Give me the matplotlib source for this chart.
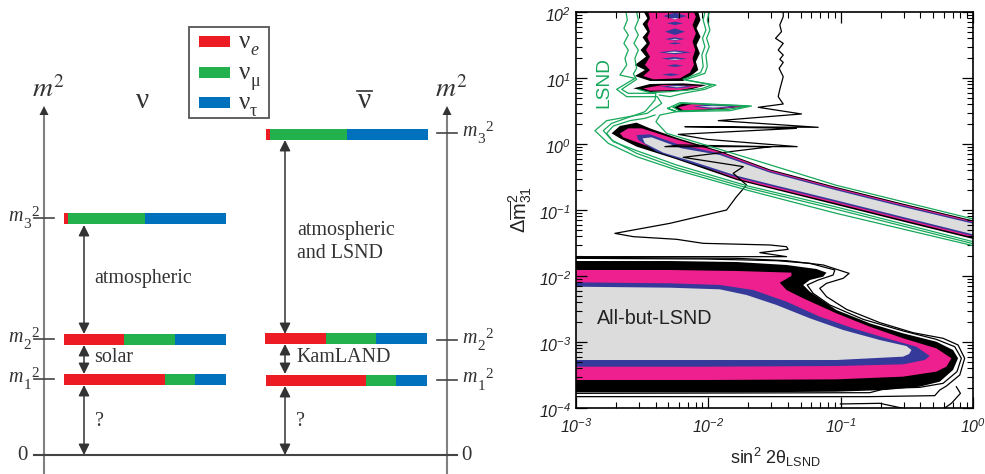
import numpy as np
import matplotlib
matplotlib.use("Agg")
import matplotlib.pyplot as plt
from matplotlib.transforms import ScaledTranslation

plt.rcParams["font.family"] = ["Liberation Sans", "DejaVu Sans"]
plt.rcParams["mathtext.fontset"] = "custom"
plt.rcParams["mathtext.rm"] = "Liberation Sans:italic"
plt.rcParams["mathtext.it"] = "Liberation Sans:italic"
plt.rcParams["mathtext.bf"] = "Liberation Sans"

RED = "#ED1C24"
GREEN = "#22B14C"
BLUE = "#0071BC"
DARK = "#333333"
GREY = "#808080"
LSND_GREEN = "#16A85A"
PINK = "#EE1F8E"
INDIGO = "#34399A"
LIGHT = "#DCDCDC"

# level scheme, left panel
level_digits = ["3", "2", "1"]
nu_y = [218.5, 339.5, 379.5]
nu_left = [64, 64, 64]
nu_e = [4, 60, 101]
nu_mu = [77, 51, 30]
nu_tau = [81, 51, 31]
nubar_y = [134.5, 338.5, 380.5]
nubar_left = [266, 265, 266]
nubar_e = [4, 61, 100]
nubar_mu = [77, 50, 30]
nubar_tau = [81, 51, 31]
left_tick_y = [218, 339, 379]
right_tick_y = [133, 340, 379.5]
zero_y = 455
flavour_colors = [RED, GREEN, BLUE]
flavour_y = [41.5, 72.5, 102.5]
flavour_sub = ["e", "\u03bc", "\u03c4"]
flavour_style = ["italic", "normal", "normal"]

# sin^2 2theta (log10), dm^2 (log10): all-but-LSND island
abl_black = [(-3, -1.773), (-2.29, -1.773), (-1.787, -1.788), (-1.409, -1.833), (-1.183, -1.894),
             (-1.107, -1.949), (-1.132, -2.01), (-1.233, -2.061), (-1.283, -2.136), (-1.233, -2.237),
             (-1.032, -2.515), (-.78, -2.717), (-.528, -2.869), (-.277, -2.995), (-.151, -3.121),
             (-.113, -3.247), (-.151, -3.424), (-.251, -3.601), (-.402, -3.677), (-.654, -3.727),
             (-1.032, -3.753), (-1.787, -3.763), (-3, -3.763)]
abl_pink = [(-3, -1.909), (-2.29, -1.909), (-1.787, -1.924), (-1.372, -1.949), (-1.372, -2.0),
            (-1.46, -2.101), (-1.409, -2.212), (-1.283, -2.338), (-1.032, -2.566), (-.78, -2.768),
            (-.528, -2.944), (-.277, -3.096), (-.163, -3.247), (-.201, -3.374), (-.277, -3.449),
            (-.528, -3.525), (-1.032, -3.566), (-2.039, -3.576), (-3, -3.576)]
abl_blue = [(-3, -2.096), (-2.29, -2.111), (-1.913, -2.136), (-1.661, -2.212), (-1.409, -2.389),
            (-1.158, -2.616), (-.906, -2.793), (-.654, -2.944), (-.428, -3.071), (-.327, -3.212),
            (-.365, -3.273), (-.528, -3.338), (-1.032, -3.364), (-2.039, -3.374), (-3, -3.374)]
abl_gray = [(-3, -2.162), (-2.29, -2.177), (-1.913, -2.202), (-1.711, -2.288), (-1.485, -2.439),
            (-1.233, -2.641), (-.981, -2.818), (-.704, -2.97), (-.503, -3.061), (-.465, -3.121),
            (-.483, -3.182), (-.528, -3.222), (-1.032, -3.273), (-2.039, -3.273), (-3, -3.273)]
abl_line_a = [(-3, -1.732), (-2.039, -1.742), (-1.485, -1.768), (-1.233, -1.808), (-1.044, -1.909),
              (-1.057, -1.985), (-1.17, -2.061), (-1.253, -2.136), (-1.208, -2.263), (-1.082, -2.439),
              (-.83, -2.657), (-.528, -2.833), (-.277, -2.96), (-.138, -3.071), (-.088, -3.247),
              (-.121, -3.449), (-.226, -3.626), (-.402, -3.687), (-.654, -3.702), (-.78, -3.768),
              (-3, -3.778)]
abl_line_b = [(-3, -1.717), (-1.787, -1.732), (-1.409, -1.768), (-1.132, -1.833), (-.936, -1.96),
              (-.981, -2.035), (-1.107, -2.111), (-1.158, -2.187), (-1.107, -2.313), (-.956, -2.505),
              (-.704, -2.707), (-.453, -2.859), (-.226, -2.944), (-.113, -3.045), (-.063, -3.247),
              (-.1, -3.5), (-.201, -3.667), (-.251, -3.727), (-.289, -3.813), (-.78, -3.828),
              (-3, -3.828)]
abl_line_c = [(-1.002, -3.939), (-.704, -3.929), (-.528, -4.005)]
abl_line_d = [(-.214, -4.0), (-.163, -3.929), (-.095, -3.778), (-.126, -3.677)]
wander_line = [(-1.434, 2.0), (-1.434, 1.929), (-1.46, 1.803), (-1.447, 1.702), (-1.492, 1.601),
               (-1.434, 1.525), (-1.472, 1.424), (-1.434, 1.348), (-1.46, 1.283), (-1.434, 1.237),
               (-1.465, 1.146), (-1.434, 1.02), (-1.46, .828), (-1.472, .717), (-1.434, .606),
               (-1.623, .556), (-1.296, .455), (-1.925, .354), (-1.17, .253), (-2.177, .263),
               (-1.334, .237), (-2.227, .146), (-2.013, .071), (-1.329, -.04), (-2.328, -.04),
               (-2.215, -.015), (-1.523, -.04), (-2.19, -.202), (-1.736, -.343), (-1.812, -.444),
               (-1.711, -.621), (-1.787, -.798), (-1.862, -1.0), (-2.29, -1.202), (-2.706, -1.354),
               (-2.567, -1.404), (-2.24, -1.444), (-2.039, -1.505), (-1.535, -1.53), (-1.409, -1.556),
               (-1.397, -1.596), (-1.611, -1.646), (-1.409, -1.707), (-3, -1.707)]

# LSND band
band_black = [(-2.731, .162), (-2.668, .273), (-2.542, .323), (-2.441, .237), (-2.227, .086),
              (-1.913, -.106), (-1.535, -.384), (-1.032, -.652), (-.528, -.904), (0, -1.157),
              (0, -1.439), (-.528, -1.177), (-1.032, -.924), (-1.535, -.672), (-1.787, -.545),
              (-2.24, -.232), (-2.542, -.04), (-2.668, .086)]
band_pink = [(-2.668, .162), (-2.605, .237), (-2.504, .237), (-2.227, .061), (-1.913, -.121),
             (-1.535, -.399), (-1.032, -.667), (-.528, -.919), (0, -1.172), (0, -1.414),
             (-.528, -1.152), (-1.032, -.899), (-1.535, -.652), (-1.787, -.525), (-2.24, -.192),
             (-2.517, .01), (-2.643, .101)]
band_blue = [(-2.542, .136), (-2.441, .146), (-2.215, -.015), (-1.913, -.141), (-1.535, -.414),
             (-1.032, -.682), (-.528, -.934), (0, -1.187), (0, -1.394), (-.528, -1.131),
             (-1.032, -.879), (-1.535, -.631), (-1.787, -.505), (-2.139, -.283), (-2.391, -.116),
             (-2.529, .061)]
band_gray = [(-2.497, .086), (-2.429, .101), (-2.202, -.066), (-1.913, -.167), (-1.535, -.434),
             (-1.032, -.702), (-.528, -.955), (0, -1.207), (0, -1.369), (-.528, -1.106),
             (-1.032, -.854), (-1.535, -.606), (-1.787, -.48), (-2.139, -.253), (-2.341, -.131),
             (-2.479, .01)]

# vertical stripe at large dm^2
top_black = [(-2.487, 2.0), (-2.461, 1.904), (-2.497, 1.818), (-2.461, 1.702), (-2.497, 1.616),
             (-2.466, 1.525), (-2.512, 1.424), (-2.471, 1.323), (-2.555, 1.197), (-2.479, 1.121),
             (-2.555, 1.03), (-2.441, .955), (-2.19, .955), (-2.114, 1.061), (-2.076, 1.121),
             (-2.094, 1.247), (-2.064, 1.374), (-2.089, 1.5), (-2.059, 1.626), (-2.089, 1.753),
             (-2.059, 1.879), (-2.076, 2.0)]
top_pink = [(-2.454, 2.0), (-2.441, 1.904), (-2.461, 1.818), (-2.441, 1.702), (-2.461, 1.616),
            (-2.441, 1.525), (-2.471, 1.424), (-2.441, 1.323), (-2.479, 1.197), (-2.441, 1.121),
            (-2.492, 1.03), (-2.416, .98), (-2.215, .995), (-2.139, 1.081), (-2.109, 1.197),
            (-2.119, 1.298), (-2.099, 1.424), (-2.119, 1.551), (-2.094, 1.677), (-2.119, 1.803),
            (-2.094, 1.929), (-2.109, 2.0)]
second_black = [(-2.567, .843), (-2.441, .909), (-2.19, .919), (-2.013, .894), (-2.164, .808), (-2.441, .788)]
second_pink = [(-2.492, .843), (-2.341, .894), (-2.039, .879), (-2.215, .818), (-2.441, .808)]
third_black = [(-2.265, .556), (-2.19, .626), (-1.711, .566), (-2.039, .505), (-2.215, .49)]
third_pink = [(-2.227, .556), (-2.114, .611), (-1.724, .566), (-2.039, .52), (-2.19, .51)]
third_blue = [(-2.114, .566), (-1.988, .601), (-1.774, .566), (-1.988, .535)]
third_gray = [(-2.076, .566), (-1.963, .581), (-1.837, .566), (-1.963, .551)]

blue_left = [-2.341, -2.315, -2.328, -2.328, -2.303, -2.378, -2.353, -2.315, -2.353, -2.366]
blue_right = [-2.164, -2.19, -2.177, -2.177, -2.202, -2.127, -2.164, -2.19, -2.215, -2.114]
blue_mid = [1.939, 1.828, 1.702, 1.591, 1.525, 1.389, 1.293, 1.187, 1.051, .869]
blue_half = [.05, .025, .05, .025, .015, .03, .025, .02, .02, .025]
gray_left = [-2.278, -2.29, -2.303, -2.328, -2.303]
gray_right = [-2.227, -2.215, -2.202, -2.19, -2.165]
gray_mid = [1.899, 1.586, 1.283, 1.389, .869]
gray_half = [.01, .008, .008, .012, .01]

# LSND green contours
green_outer = [(-2.622, 2.0), (-2.612, 1.879), (-2.638, 1.753), (-2.605, 1.652), (-2.638, 1.525),
               (-2.605, 1.424), (-2.63, 1.298), (-2.617, 1.197), (-2.668, 1.045), (-2.555, .995),
               (-2.693, .828), (-2.617, .717), (-2.386, .717), (-2.353, .616), (-2.461, .465),
               (-2.768, .354), (-2.857, .202), (-2.756, .01), (-2.542, -.192), (-2.24, -.394),
               (-1.711, -.697), (-1.032, -1.051), (0, -1.54)]
green_middle = [(-2.542, 2.0), (-2.529, 1.879), (-2.555, 1.753), (-2.529, 1.652), (-2.562, 1.525),
                (-2.529, 1.424), (-2.555, 1.298), (-2.542, 1.146), (-2.567, 1.061), (-2.542, .98),
                (-2.655, .828), (-2.605, .768), (-2.396, .768), (-2.403, .667), (-2.479, .49),
                (-2.731, .313), (-2.794, .202), (-2.731, .061), (-2.542, -.141), (-2.24, -.359),
                (-1.711, -.662), (-1.032, -.99), (0, -1.51)]
green_inner = [(0, -1.48), (-1.032, -.955), (-1.711, -.631), (-2.24, -.318), (-2.542, -.101),
               (-2.718, .035), (-2.768, .162), (-2.718, .273), (-2.592, .354), (-2.479, .389),
               (-2.403, .439)]
green_upper = [(-2.308, .54), (-2.215, .626), (-1.674, .576), (-1.837, .505), (-2.24, .49),
               (-2.308, .54), (-2.24, .49), (-2.366, .439), (-2.396, .338), (-2.315, .162),
               (-1.913, -.081), (-1.032, -.626), (0, -1.136)]
green_right_a = [(-1.993, 2.0), (-2.008, 1.879), (-1.988, 1.727), (-2.013, 1.601), (-1.993, 1.475),
                 (-2.018, 1.348), (-2.008, 1.172), (-2.026, 1.071), (-2.177, .97), (-1.943, .894),
                 (-2.026, .828), (-2.19, .768), (-2.29, .717), (-2.371, .742)]
green_right_b = [(-2.026, 2.0), (-2.039, 1.879), (-2.018, 1.727), (-2.044, 1.601), (-2.026, 1.475),
                 (-2.049, 1.348), (-2.039, 1.172), (-2.059, 1.081), (-2.19, .98), (-1.976, .894),
                 (-2.051, .838), (-2.29, .793), (-2.441, .778), (-2.529, .828)]
green_third = [(-2.265, .556), (-2.202, .616), (-1.699, .576), (-1.85, .525), (-2.215, .5), (-2.265, .556)]

x_ticks = [1e-3, 1e-2, 1e-1, 1e0]
x_tick_labels = [r"$10^{-3}$", r"$10^{-2}$", r"$10^{-1}$", r"$10^{0}$"]
y_ticks = [1e-4, 1e-3, 1e-2, 1e-1, 1e0, 1e1, 1e2]
y_tick_labels = [r"$10^{-4}$", r"$10^{-3}$", r"$10^{-2}$", r"$10^{-1}$", r"$10^{0}$", r"$10^{1}$", r"$10^{2}$"]


def fill_log(ax, pts, color):
    xy = np.array(pts)
    ax.fill(10 ** xy[:, 0], 10 ** xy[:, 1], color=color, lw=0)


def line_log(ax, pts, color, lw=0.9):
    xy = np.array(pts)
    ax.plot(10 ** xy[:, 0], 10 ** xy[:, 1], color=color, lw=lw)


def fill_lens(ax, left, right, mid, half, color):
    for a, b, m, h in zip(left, right, mid, half):
        c = (a + b) / 2
        fill_log(ax, [(a, m), (c, m + h), (b, m), (c, m - h)], color)


def double_arrow(ax, x, y0, y1):
    ax.annotate("", xy=(x, y1), xytext=(x, y0),
                arrowprops=dict(arrowstyle="<|-|>,head_length=0.36,head_width=0.18", color=DARK,
                                lw=1.1, shrinkA=0, shrinkB=0, mutation_scale=18))


def mass_label(ax, x, y, digit):
    serif = dict(family="Liberation Serif", color=DARK, va="baseline")
    ax.text(x, y + 3, "m", fontsize=14.4, style="italic", **serif)
    ax.text(x + 15.5, y + 10, digit, fontsize=11, **serif)
    ax.text(x + 23, y - 2, "2", fontsize=11, **serif)


def level_scheme(ax):
    ax.set_xlim(0, 490)
    ax.set_ylim(474, 0)
    ax.axis("off")

    for ys, left, w_e, w_mu, w_tau in [(nu_y, nu_left, nu_e, nu_mu, nu_tau),
                                       (nubar_y, nubar_left, nubar_e, nubar_mu, nubar_tau)]:
        left = np.array(left)
        ax.barh(ys, w_e, left=left, height=11, color=RED)
        ax.barh(ys, w_mu, left=left + w_e, height=11, color=GREEN)
        ax.barh(ys, w_tau, left=left + np.array(w_e) + w_mu, height=11, color=BLUE)

    # m^2 axes
    for x in [44, 447]:
        ax.plot([x, x], [474, 112], color=GREY, lw=1.5, zorder=1)
        ax.annotate("", xy=(x, 106), xytext=(x, 125),
                    arrowprops=dict(arrowstyle="-|>,head_length=0.36,head_width=0.18", color=DARK,
                                    lw=0, shrinkA=0, shrinkB=0, mutation_scale=18))
    ax.plot([34, 457], [zero_y, zero_y], color="#444444", lw=1.5)
    for y in left_tick_y:
        ax.plot([34, 54], [y, y], color="#444444", lw=1.2)
    for y in right_tick_y:
        ax.plot([437, 457], [y, y], color="#444444", lw=1.2)

    double_arrow(ax, 84, 225, 334)
    double_arrow(ax, 84, 345, 374)
    double_arrow(ax, 84, 385, 455)
    double_arrow(ax, 285, 140, 334)
    double_arrow(ax, 285, 344, 374)
    double_arrow(ax, 285, 386, 455)

    serif = dict(family="Liberation Serif", fontsize=14.4, color=DARK, va="center")
    ax.text(94.5, 278, "atmospheric", **serif)
    ax.text(94.5, 358, "solar", **serif)
    ax.text(94.5, 421, "?", **serif)
    ax.text(297, 230, "atmospheric", **serif)
    ax.text(297, 254, "and LSND", **serif)
    ax.text(296, 357, "KamLAND", **serif)
    ax.text(296, 421, "?", **serif)

    for digit, yl, yr in zip(level_digits, left_tick_y, right_tick_y):
        mass_label(ax, 8, yl, digit)
        mass_label(ax, 462, yr, digit)
    ax.text(22, 456, "0", family="Liberation Serif", fontsize=15, color=DARK, ha="center", va="center")
    ax.text(466, 456, "0", family="Liberation Serif", fontsize=15, color=DARK, ha="center", va="center")

    for x in [48, 451]:
        ax.text(x, 90, "$m^{2}$", math_fontfamily="stix", fontsize=20, color=DARK, ha="center", va="center")
    ax.text(143, 101, "\u03bd", family="Liberation Serif", fontsize=21, color=DARK, ha="center", va="center")
    ax.text(364, 101, "\u03bd", family="Liberation Serif", fontsize=21, color=DARK, ha="center", va="center")
    ax.plot([357, 372], [91, 91], color=DARK, lw=1.2)

    # flavour legend
    ax.add_patch(plt.Rectangle((189, 26.5), 80, 91, fc="white", ec="#555555", lw=1.3))
    for y, c, sub, style in zip(flavour_y, flavour_colors, flavour_sub, flavour_style):
        ax.barh(y, 31, left=199, height=11, color=c, zorder=3)
        ax.text(239, y, "\u03bd", family="Liberation Serif", fontsize=18, color=DARK, va="center", zorder=3)
        ax.text(250, y + 9, sub, family="Liberation Serif", style=style, fontsize=13, color=DARK, va="center", zorder=3)


def exclusion_plot(ax):
    for pts, c in [(abl_black, "black"), (abl_pink, PINK), (abl_blue, INDIGO), (abl_gray, LIGHT),
                   (top_black, "black"), (top_pink, PINK),
                   (second_black, "black"), (second_pink, PINK),
                   (third_black, "black"), (third_pink, PINK), (third_blue, INDIGO), (third_gray, LIGHT),
                   (band_black, "black"), (band_pink, PINK), (band_blue, INDIGO), (band_gray, LIGHT)]:
        fill_log(ax, pts, c)
    fill_lens(ax, blue_left, blue_right, blue_mid, blue_half, INDIGO)
    fill_lens(ax, gray_left, gray_right, gray_mid, gray_half, LIGHT)

    for pts in [abl_line_a, abl_line_b, abl_line_c, abl_line_d, wander_line]:
        line_log(ax, pts, "black")
    for pts in [green_outer, green_middle, green_inner, green_upper, green_right_a, green_right_b, green_third]:
        line_log(ax, pts, LSND_GREEN)

    ax.set_xscale("log")
    ax.set_yscale("log")
    ax.set_xlim(1e-3, 1)
    ax.set_ylim(1e-4, 1e2)
    ax.set_xticks(x_ticks, x_tick_labels)
    ax.set_yticks(y_ticks, y_tick_labels)
    ax.tick_params(which="major", direction="in", top=True, right=True, length=8, width=0.9, labelsize=11.5)
    ax.tick_params(axis="x", which="major", pad=7, labelcolor="#222222")
    ax.tick_params(axis="y", which="major", pad=3.5, labelcolor="#222222")
    ax.tick_params(which="minor", direction="in", top=True, right=True, length=4, width=0.8)
    ax.minorticks_on()
    down = ScaledTranslation(0, -2 / 100, ax.figure.dpi_scale_trans)
    for label in ax.get_yticklabels():
        label.set_transform(label.get_transform() + down)
    for s in ax.spines.values():
        s.set_linewidth(1.2)
    ax.text(10 ** -2.84, 10 ** -2.64, "All-but-LSND", fontsize=14.2, color="#222222", va="center", ha="left")
    ax.text(10 ** -2.79, 10 ** 0.93, "LSND", fontsize=13.8, color=LSND_GREEN, rotation=90, ha="center", va="center")


fig = plt.figure(figsize=(9.85, 4.74), dpi=100)
ax_left = fig.add_axes([0, 0, 490 / 985, 1])
ax_right = fig.add_axes([576 / 985, 66 / 474, 397 / 985, 396 / 474])
level_scheme(ax_left)
exclusion_plot(ax_right)
fig.text(775 / 985, 1 - 457 / 474, r"$\mathbf{sin}^{\mathbf{2}}\ \mathbf{2\theta}_{\mathbf{LSND}}$", fontsize=13, ha="center", va="center", color="#222222")
fig.text(520 / 985, 1 - 209 / 474, r"$\mathbf{\Delta\overline{m}}_{\mathbf{31}}^{\mathbf{2}}$", fontsize=14.4, rotation=90, ha="center", va="center", color="#222222")
fig.savefig("out.png", dpi=100)
